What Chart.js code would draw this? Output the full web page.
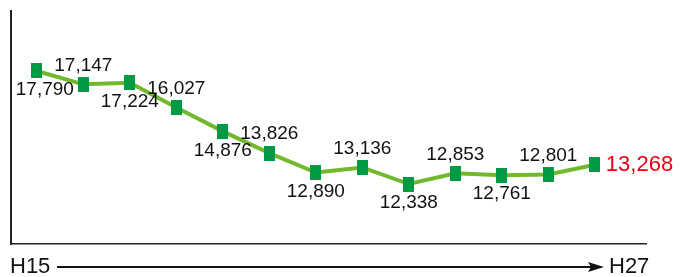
<!DOCTYPE html>
<html>
<head>
<meta charset="utf-8">
<script src="https://cdn.jsdelivr.net/npm/chart.js@4/dist/chart.umd.min.js"></script>
<style>
    html, body { margin: 0; padding: 0; background: #fff; }
    #wrap { width: 682px; height: 277px; }
</style>
</head>
<body>
<div id="wrap"><canvas id="trend"></canvas></div>
<script>
// fiscal years H15 .. H27
var years = ['H15', 'H16', 'H17', 'H18', 'H19', 'H20', 'H21', 'H22', 'H23', 'H24', 'H25', 'H26', 'H27'];
var counts = [17790, 17147, 17224, 16027, 14876, 13826, 12890, 13136, 12338, 12853, 12761, 12801, 13268];
// where each value label sits relative to its marker
var labelSide = ['below', 'above', 'below', 'above', 'below', 'above', 'below', 'above', 'below', 'above', 'below', 'above', 'right'];

// tall green rectangle used as the point marker
var marker = document.createElement('canvas');
marker.width = 11;
marker.height = 15;
var mctx = marker.getContext('2d');
mctx.fillStyle = '#009a44';
mctx.fillRect(0, 0, 11, 15);

var valueLabels = {
    id: 'valueLabels',
    afterDatasetsDraw: function (chart) {
        var ctx = chart.ctx;
        var meta = chart.getDatasetMeta(0);
        ctx.save();
        ctx.textBaseline = 'middle';
        meta.data.forEach(function (pt, i) {
            var txt = counts[i].toLocaleString('en-US');
            var side = labelSide[i];
            if (side === 'right') {
                ctx.font = '22px "Liberation Sans", Arial, sans-serif';
                ctx.fillStyle = '#e60012';
                ctx.textAlign = 'left';
                ctx.fillText(txt, pt.x + 11, pt.y);
                return;
            }
            ctx.font = '19px "Liberation Sans", Arial, sans-serif';
            ctx.fillStyle = '#111';
            ctx.textAlign = 'center';
            var dx = i === 0 ? 8 : 0;
            var dy = side === 'above' ? -19 : 19;
            ctx.fillText(txt, pt.x + dx, pt.y + dy);
        });
        ctx.restore();
    }
};

// H15 ----> H27 arrow under the axis
var yearArrow = {
    id: 'yearArrow',
    afterDraw: function (chart) {
        var ctx = chart.ctx;
        var area = chart.chartArea;
        var y = area.bottom + 23;
        ctx.save();
        ctx.font = '22px "Liberation Sans", Arial, sans-serif';
        ctx.fillStyle = '#111';
        ctx.textBaseline = 'middle';
        ctx.textAlign = 'left';
        ctx.fillText(years[0], 10, y);
        ctx.fillText(years[years.length - 1], 609, y);

        ctx.strokeStyle = '#111';
        ctx.lineWidth = 2;
        ctx.beginPath();
        ctx.moveTo(57, y);
        ctx.lineTo(592, y);
        ctx.stroke();
        ctx.beginPath();
        ctx.moveTo(604, y);
        ctx.lineTo(588, y - 5);
        ctx.lineTo(591, y);
        ctx.lineTo(588, y + 5);
        ctx.closePath();
        ctx.fill();
        ctx.restore();
    }
};

new Chart(document.getElementById('trend'), {
    type: 'line',
    data: {
        datasets: [{
            data: counts.map(function (v, i) { return { x: i, y: v }; }),
            borderColor: '#72b82c',
            borderWidth: 4,
            pointStyle: marker,
            pointRadius: 7,
            tension: 0,
            clip: false
        }]
    },
    options: {
        responsive: true,
        maintainAspectRatio: false,
        animation: false,
        // the hidden y axis still takes ~4px, so left padding is 3 for a 7px edge
        layout: { padding: { left: 3, top: 9, right: 36, bottom: 33 } },
        plugins: {
            legend: { display: false },
            tooltip: { enabled: false }
        },
        scales: {
            x: {
                type: 'linear',
                min: -0.556,
                max: 13.1,
                grid: { display: false, drawTicks: false },
                ticks: { display: false },
                border: { display: true, color: '#222', width: 1.5 }
            },
            y: {
                min: 9445,
                max: 20683,
                grid: { display: false, drawTicks: false },
                ticks: { display: false },
                border: { display: true, color: '#222', width: 2 }
            }
        }
    },
    plugins: [valueLabels, yearArrow]
});
</script>
</body>
</html>
